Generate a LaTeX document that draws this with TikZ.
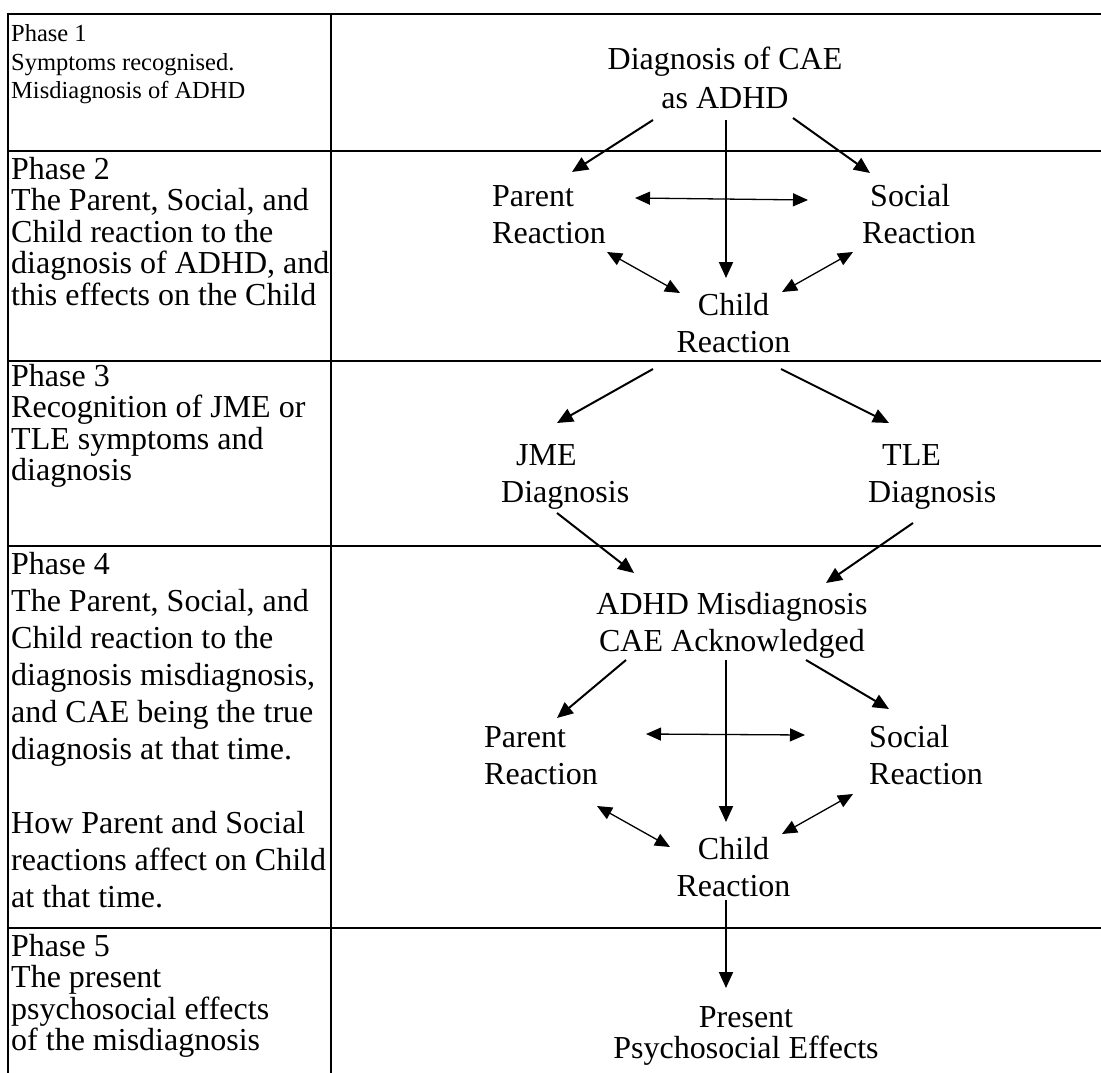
\documentclass[tikz,border=0pt]{standalone}
\usepackage{fontspec}
\setmainfont{Liberation Serif}
\usetikzlibrary{arrows.meta,positioning,calc}
\tikzset{
    phase/.style={anchor=north west,align=left,inner sep=0pt,font=\fontsize{32}{31.5}\selectfont},
    box/.style={align=center,inner sep=0pt,font=\fontsize{32}{37}\selectfont},
    boxl/.style={box,align=left,anchor=west},
    rule/.style={-,line width=2pt},
    arr/.style={-{Triangle[length=16pt,width=14pt]},line width=2pt},
    darr/.style={{Triangle[length=15pt,width=13pt]}-{Triangle[length=15pt,width=13pt]},line width=1.3pt},
}
\begin{document}
\begin{tikzpicture}[x=1pt,y=-1pt]
    \useasboundingbox (0,0) rectangle (1101,1073);
    % table
    \draw[rule] (8,14) -- (1101,14);
    \foreach \y in {151,361,546,928}
        \draw[rule] (8,\y) -- (1101,\y);
    \draw[rule] (8,13) -- (8,1073);
    \draw[rule] (331,13) -- (331,1073);
    % left column
    \node[phase,font=\fontsize{24.5}{28.5}\selectfont] (p1) at (11,24.4) {Phase 1\\Symptoms recognised.\\Misdiagnosis of ADHD};
    \node[phase] (p2) at (11,156.7) {Phase 2\\The Parent, Social, and\\Child reaction to the\\diagnosis of ADHD, and\\this effects on the Child};
    \node[phase] (p3) at (11,363.7) {Phase 3\\Recognition of JME or\\TLE symptoms and\\diagnosis};
    \node[phase,font=\fontsize{32}{37}\selectfont] (p4) at (11,551.7) {Phase 4\\The Parent, Social, and\\Child reaction to the\\diagnosis misdiagnosis,\\and CAE being the true\\diagnosis at that time.\\[37pt]How Parent and Social\\reactions affect on Child\\at that time.};
    \node[phase] (p5) at (11,933.7) {Phase 5\\The present\\psychosocial effects\\of the misdiagnosis};
    % right column
    \node[box,font=\fontsize{32}{39}\selectfont] (diag) at (725,77.5) {Diagnosis of CAE\\as ADHD};
    \node[boxl] (parentA) at (492,215) {Parent\\Reaction};
    \node[boxl] (socialA) at (862,214) {\hspace*{8pt}Social\\Reaction};
    \node[box] (childA) at (733.5,323.5) {Child\\Reaction};
    \node[boxl] (jme) at (501,477) {\hspace*{15pt}JME\\Diagnosis};
    \node[boxl] (tle) at (868,477) {\hspace*{14pt}TLE\\Diagnosis};
    \node[box] (mis) at (732,625) {ADHD Misdiagnosis\\CAE Acknowledged};
    \node[boxl] (parentB) at (484,756) {Parent\\Reaction};
    \node[boxl] (socialB) at (869,755) {Social\\Reaction};
    \node[box] (childB) at (733.5,867) {Child\\Reaction};
    \node[box,font=\fontsize{32}{31}\selectfont] (present) at (746,1036) {Present\\Psychosocial Effects};
    % phase 1 and 2
    \draw[arr] ($(diag)+(-72,42.5)$) -- ($(parentA.west)+(80,-43)$);
    \draw[arr] ($(diag)+(1,42.5)$) -- ($(childA)+(-7.5,-45.5)$);
    \draw[arr] ($(diag)+(68,40.5)$) -- ($(socialA.west)+(8,-41)$);
    \draw[darr] ($(parentA.west)+(143,-17)$) -- ($(socialA.west)+(-54,-14)$);
    \draw[darr] ($(parentA.west)+(115,37)$) -- ($(childA)+(-53.5,-30.5)$);
    \draw[darr] ($(socialA.west)+(-9,38)$) -- ($(childA)+(48.5,-31.5)$);
    % phase 3
    \draw[arr] ($(childA)+(-80.5,45.5)$) -- ($(jme.west)+(56,-54)$);
    \draw[arr] ($(childA)+(47.5,45.5)$) -- ($(tle.west)+(21,-54)$);
    \draw[arr] ($(jme.west)+(56,36)$) -- ($(mis)+(-98,-52)$);
    \draw[arr] ($(tle.west)+(45,46)$) -- ($(mis)+(94,-42)$);
    % phase 4
    \draw[arr] ($(mis)+(-106,35)$) -- ($(parentB.west)+(73,-38)$);
    \draw[arr] ($(mis)+(-6,35)$) -- ($(childB)+(-7.5,-45)$);
    \draw[arr] ($(mis)+(74,35)$) -- ($(socialB.west)+(20,-46)$);
    \draw[darr] ($(parentB.west)+(162,-22)$) -- ($(socialB.west)+(-64,-20)$);
    \draw[darr] ($(parentB.west)+(113,50)$) -- ($(childB)+(-63.5,-20)$);
    \draw[darr] ($(socialB.west)+(-16,39)$) -- ($(childB)+(48.5,-33)$);
    % phase 5
    \draw[arr] ($(childB)+(-7.5,33)$) -- ($(present)+(-20,-48)$);
\end{tikzpicture}
\end{document}
